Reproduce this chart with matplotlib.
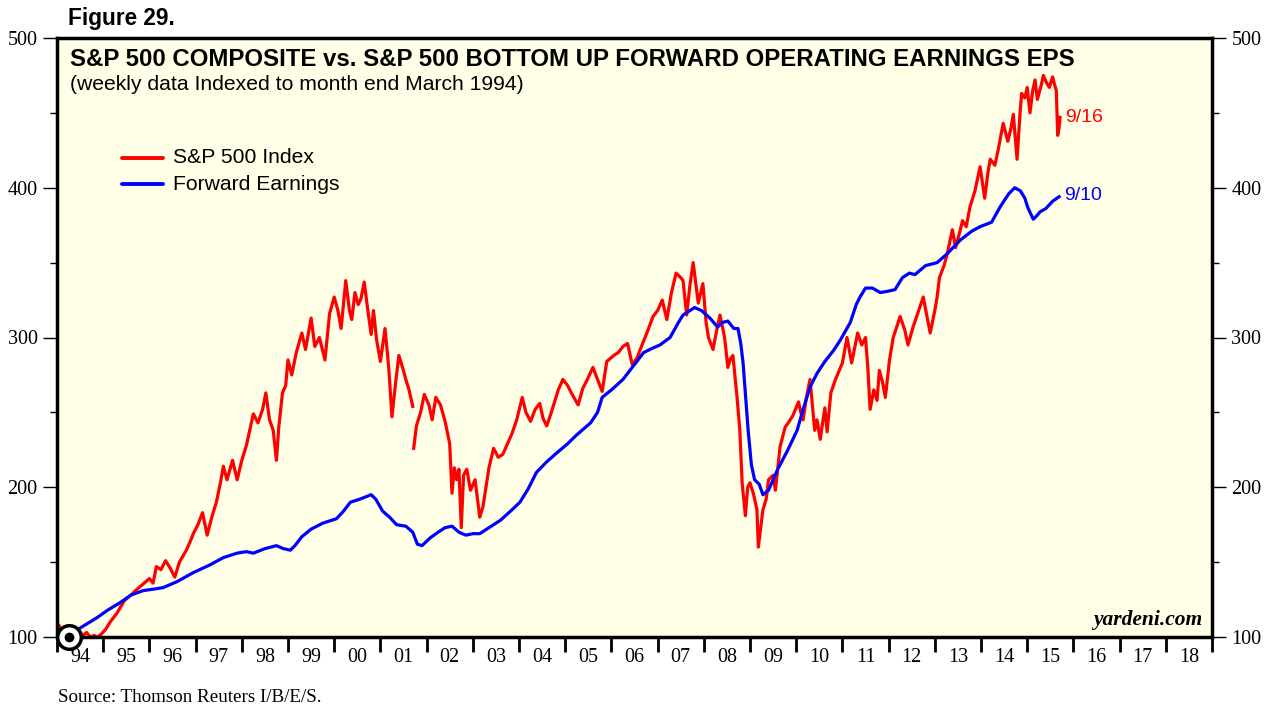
import numpy as np
import matplotlib
matplotlib.use("Agg")
import matplotlib.pyplot as plt

# S&P 500 index, indexed to March 1994 = 100 (decimal year, value)
spx_years = [1994.00, 1994.04, 1994.10, 1994.18, 1994.25, 1994.32, 1994.40, 1994.48, 1994.56, 1994.64,
             1994.72, 1994.80, 1994.88, 1994.96, 1995.05, 1995.15, 1995.30, 1995.45, 1995.60, 1995.70,
             1995.85, 1996.00, 1996.08, 1996.15, 1996.25, 1996.35, 1996.45, 1996.55, 1996.65, 1996.80,
             1996.90, 1996.95, 1997.05, 1997.15, 1997.25, 1997.35, 1997.45, 1997.55, 1997.60, 1997.68,
             1997.80, 1997.90, 1998.00, 1998.10, 1998.25, 1998.35, 1998.45, 1998.52, 1998.60, 1998.68,
             1998.75, 1998.80, 1998.88, 1998.95, 1999.00, 1999.08, 1999.18, 1999.30, 1999.38, 1999.50,
             1999.58, 1999.68, 1999.80, 1999.90, 2000.00, 2000.08, 2000.15, 2000.25, 2000.33, 2000.38,
             2000.45, 2000.52, 2000.58, 2000.65, 2000.72, 2000.80, 2000.85, 2000.92, 2001.00, 2001.10,
             2001.18, 2001.25, 2001.33, 2001.40, 2001.48, 2001.55, 2001.62, 2001.70, 2001.71, 2001.72,
             2001.78, 2001.87, 2001.95, 2002.05, 2002.12, 2002.20, 2002.30, 2002.40, 2002.50, 2002.55,
             2002.60, 2002.65, 2002.70, 2002.75, 2002.80, 2002.87, 2002.95, 2003.05, 2003.15, 2003.22,
             2003.35, 2003.45, 2003.55, 2003.65, 2003.75, 2003.85, 2003.95, 2004.07, 2004.15, 2004.25,
             2004.35, 2004.45, 2004.52, 2004.60, 2004.70, 2004.85, 2004.95, 2005.05, 2005.15, 2005.28,
             2005.38, 2005.48, 2005.60, 2005.70, 2005.80, 2005.90, 2006.05, 2006.15, 2006.25, 2006.35,
             2006.45, 2006.55, 2006.65, 2006.78, 2006.90, 2007.00, 2007.10, 2007.20, 2007.30, 2007.40,
             2007.50, 2007.55, 2007.63, 2007.70, 2007.77, 2007.83, 2007.88, 2007.98, 2008.05, 2008.10,
             2008.20, 2008.28, 2008.35, 2008.45, 2008.52, 2008.58, 2008.63, 2008.72, 2008.78, 2008.83,
             2008.90, 2008.95, 2009.00, 2009.08, 2009.15, 2009.18, 2009.28, 2009.35, 2009.40, 2009.50,
             2009.55, 2009.65, 2009.76, 2009.85, 2009.93, 2010.05, 2010.10, 2010.15, 2010.22, 2010.30,
             2010.40, 2010.45, 2010.52, 2010.62, 2010.67, 2010.75, 2010.85, 2011.00, 2011.10, 2011.20,
             2011.33, 2011.42, 2011.50, 2011.55, 2011.60, 2011.68, 2011.75, 2011.80, 2011.87, 2011.93,
             2012.02, 2012.10, 2012.25, 2012.35, 2012.42, 2012.53, 2012.65, 2012.75, 2012.83, 2012.90,
             2013.00, 2013.05, 2013.10, 2013.20, 2013.27, 2013.38, 2013.45, 2013.52, 2013.60, 2013.68,
             2013.76, 2013.87, 2013.98, 2014.08, 2014.15, 2014.20, 2014.30, 2014.37, 2014.48, 2014.58,
             2014.65, 2014.70, 2014.78, 2014.85, 2014.88, 2014.95, 2015.00, 2015.06, 2015.12, 2015.17,
             2015.22, 2015.30, 2015.35, 2015.42, 2015.48, 2015.55, 2015.60, 2015.63, 2015.66, 2015.69,
             2015.71]
spx_values = [106, 108, 104, 102, 100, 103, 100, 104, 101, 103,
              100, 101, 100, 102, 105, 110, 116, 124, 128, 131,
              135, 139, 136, 147, 145, 151, 146, 140, 150, 158,
              165, 169, 175, 183, 168, 180, 190, 205, 214, 205,
              218, 205, 218, 228, 249, 243, 252, 263, 245, 238,
              218, 240, 263, 268, 285, 275, 290, 303, 292, 313,
              294, 300, 285, 316, 327, 318, 306, 338, 318, 312,
              330, 322, 326, 337, 320, 302, 318, 298, 284, 306,
              280, 247, 270, 288, 280, 272, 265, 254, np.nan, 226,
              241, 250, 262, 255, 245, 260, 255, 244, 229, 196,
              213, 205, 212, 173, 208, 212, 198, 205, 180, 187,
              213, 226, 220, 222, 229, 236, 245, 260, 250, 244,
              252, 256, 246, 241, 250, 265, 272, 268, 262, 255,
              266, 272, 280, 272, 264, 284, 288, 290, 294, 296,
              282, 286, 294, 304, 314, 318, 325, 312, 330, 343,
              340, 338, 315, 335, 350, 335, 323, 336, 310, 300,
              292, 305, 315, 300, 280, 286, 288, 260, 238, 203,
              181, 200, 203, 195, 185, 160, 185, 192, 205, 208,
              198, 227, 240, 244, 248, 257, 250, 245, 260, 272,
              238, 245, 232, 253, 237, 263, 272, 283, 300, 283,
              303, 295, 300, 280, 252, 265, 258, 278, 270, 260,
              285, 300, 314, 305, 295, 307, 318, 327, 314, 303,
              318, 327, 340, 348, 356, 372, 360, 368, 378, 374,
              387, 398, 414, 393, 410, 419, 415, 425, 443, 431,
              440, 449, 419, 452, 463, 460, 467, 450, 465, 472,
              459, 468, 475, 470, 467, 474, 468, 465, 435, 440,
              447]

# forward earnings, indexed to March 1994 = 100
eps_years = [1994.25, 1994.50, 1994.87, 1995.10, 1995.37, 1995.60, 1995.87, 1996.10, 1996.30, 1996.60,
             1996.95, 1997.30, 1997.60, 1997.90, 1998.10, 1998.25, 1998.50, 1998.75, 1998.90, 1999.05,
             1999.15, 1999.30, 1999.50, 1999.75, 2000.05, 2000.20, 2000.35, 2000.55, 2000.80, 2000.90,
             2001.05, 2001.20, 2001.35, 2001.55, 2001.70, 2001.80, 2001.90, 2002.07, 2002.25, 2002.40,
             2002.55, 2002.70, 2002.85, 2003.00, 2003.15, 2003.35, 2003.60, 2003.85, 2004.02, 2004.20,
             2004.38, 2004.60, 2004.82, 2005.05, 2005.25, 2005.55, 2005.70, 2005.80, 2006.00, 2006.25,
             2006.45, 2006.70, 2006.90, 2007.05, 2007.27, 2007.45, 2007.55, 2007.80, 2007.95, 2008.13,
             2008.30, 2008.40, 2008.52, 2008.65, 2008.74, 2008.80, 2008.85, 2008.96, 2009.03, 2009.10,
             2009.20, 2009.28, 2009.40, 2009.60, 2009.82, 2010.02, 2010.15, 2010.30, 2010.45, 2010.62,
             2010.80, 2010.95, 2011.17, 2011.30, 2011.38, 2011.50, 2011.65, 2011.82, 2012.00, 2012.14,
             2012.30, 2012.45, 2012.57, 2012.80, 2013.05, 2013.27, 2013.55, 2013.80, 2013.98, 2014.23,
             2014.41, 2014.60, 2014.73, 2014.85, 2014.95, 2015.01, 2015.13, 2015.20, 2015.28, 2015.40,
             2015.55, 2015.69]
eps_values = [100, 106, 113, 118, 123, 128, 131, 132, 133, 137,
              143, 148, 153, 156, 157, 156, 159, 161, 159, 158,
              161, 167, 172, 176, 179, 184, 190, 192, 195, 192,
              184, 180, 175, 174, 170, 162, 161, 166, 170, 173,
              174, 170, 168, 169, 169, 173, 178, 185, 190, 199,
              210, 217, 223, 229, 235, 243, 250, 260, 265, 272,
              280, 290, 293, 295, 300, 310, 315, 320, 318, 313,
              307, 310, 311, 306, 306, 296, 283, 238, 215, 205,
              202, 195, 198, 212, 225, 238, 252, 267, 276, 284,
              291, 298, 310, 322, 327, 333, 333, 330, 331, 332,
              340, 343, 342, 348, 350, 356, 365, 371, 374, 377,
              387, 396, 400, 398, 393, 387, 379, 381, 384, 386,
              391, 394]

year_labels = ["94", "95", "96", "97", "98", "99", "00", "01", "02", "03", "04", "05", "06",
               "07", "08", "09", "10", "11", "12", "13", "14", "15", "16", "17", "18"]

sans = "Liberation Sans"
serif = "Liberation Serif"

fig = plt.figure(figsize=(12.7, 7.07), dpi=100)
ax = fig.add_axes([57 / 1270, 1 - 637 / 707, 1155 / 1270, 599 / 707])
ax.set_facecolor("#fffee6")

ax.plot(spx_years, spx_values, color="#ff0000", lw=2.3, solid_joinstyle="round")
ax.plot(eps_years, eps_values, color="#0000ff", lw=2.3, solid_joinstyle="round")

# base point marker
ax.plot([eps_years[0]], [100], marker="o", ms=17, mfc="white", mec="black", mew=2.5, clip_on=False, zorder=5)
ax.plot([eps_years[0]], [100], marker="o", ms=6, mfc="black", mec="black", clip_on=False, zorder=6)

ax.set_xlim(1994, 2019)
ax.set_ylim(100, 500)

# x axis: year boundary ticks, labels centred in each year
ax.set_xticks(np.arange(1994, 2020))
ax.set_xticklabels([])
ax.set_xticks(np.arange(1994, 2019) + 0.5, minor=True)
ax.set_xticklabels(year_labels, minor=True, fontfamily=serif, fontsize=14.5)
ax.tick_params(axis="x", which="major", direction="out", length=11, width=2, color="black")
ax.tick_params(axis="x", which="minor", length=0, pad=8)

ax.set_yticks([100, 200, 300, 400, 500])
ax.set_yticks([150, 250, 350, 450], minor=True)
ax.set_yticklabels(["100", "200", "300", "400", "500"], fontfamily=serif, fontsize=14.5)
ax.tick_params(axis="y", which="major", direction="out", length=10, width=1, left=True, right=True,
               labelleft=True, labelright=True, pad=4)
ax.tick_params(axis="y", which="minor", direction="out", length=5, width=1, left=True, right=True)

for s in ax.spines.values():
    s.set_linewidth(2.5)

ax.text(0.011, 0.984, "S&P 500 COMPOSITE vs. S&P 500 BOTTOM UP FORWARD OPERATING EARNINGS EPS",
        transform=ax.transAxes, fontfamily=sans, fontweight="bold", fontsize=17.3, va="top")
ax.text(0.011, 0.938, "(weekly data Indexed to month end March 1994)",
        transform=ax.transAxes, fontfamily=sans, fontsize=15.2, va="top")

# legend
ax.plot([1995.4, 1996.3], [420, 420], color="#ff0000", lw=2.8, solid_capstyle="round")
ax.plot([1995.4, 1996.3], [402.5, 402.5], color="#0000ff", lw=2.8, solid_capstyle="round")
ax.text(1996.52, 420, "S&P 500 Index", fontfamily=sans, fontsize=15.2, va="center")
ax.text(1996.52, 402.5, "Forward Earnings", fontfamily=sans, fontsize=15.2, va="center")

ax.text(spx_years[-1] + 0.12, 447, "9/16", color="#ff0000", fontfamily=sans, fontsize=14, va="center")
ax.text(eps_years[-1] + 0.12, 395, "9/10", color="#0000ff", fontfamily=sans, fontsize=14, va="center")

ax.text(0.992, 0.012, "yardeni.com", transform=ax.transAxes, ha="right", va="bottom",
        fontfamily=serif, fontstyle="italic", fontweight="bold", fontsize=15.5)

fig.text(68 / 1270, 1 - 18 / 707, "Figure 29.", fontfamily=sans, fontweight="bold", fontsize=16.3, va="center")
fig.text(58 / 1270, 1 - 697 / 707, "Source: Thomson Reuters I/B/E/S.", fontfamily=serif, fontsize=13.7, va="center")

fig.savefig("out.png", dpi=100)
